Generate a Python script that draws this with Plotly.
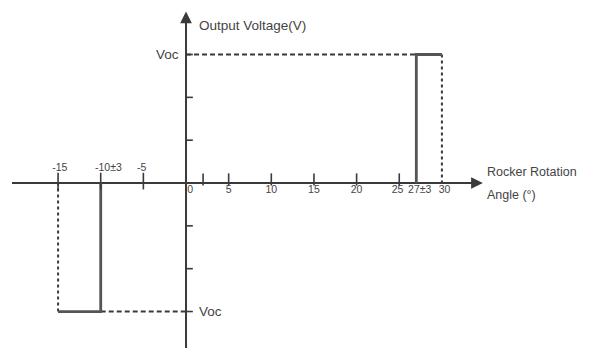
import plotly.graph_objects as go

# Data
pos_step_x = [27, 27, 30]          # solid rising edge at 27±3
pos_step_y = [0, 1, 1]
pos_dash_x = [0, 27]
pos_dash_y = [1, 1]
pos_dash_v_x = [30, 30]
pos_dash_v_y = [1, 0]

neg_step_x = [-10, -10, -15]
neg_step_y = [0, -1, -1]
neg_dash_x = [-10, 0]
neg_dash_y = [-1, -1]
neg_dash_v_x = [-15, -15]
neg_dash_v_y = [-1, 0]

neg_ticks = [-15, -10, -5]
neg_tick_labels = ["-15", "-10±3", "-5"]
neg_label_pos = [-14.8, -9.1, -5.2]
pos_ticks = [2, 5, 10, 15, 20, 25, 27, 30]
pos_tick_labels = ["0", "5", "10", "15", "20", "25", "27±3", "30"]
pos_label_pos = [0.5, 5, 10, 15, 20, 24.8, 27.4, 30.3]
y_ticks = [-1, -2/3, -1/3, 1/3, 2/3, 1]

AX = "#3a3a3a"
LN = "#555555"
TX = "#444444"
FONT = "Liberation Sans"

fig = go.Figure()

def line(x, y, color=LN, width=2.5, dash="solid"):
    fig.add_trace(go.Scatter(x=x, y=y, mode="lines",
                             line=dict(color=color, width=width, dash=dash),
                             hoverinfo="skip", showlegend=False))

line(pos_dash_x, pos_dash_y, color=AX, width=2, dash="5px,3px")
line(pos_dash_v_x, pos_dash_v_y, color=AX, width=2, dash="3px,3px")
line(neg_dash_x, neg_dash_y, color=AX, width=2, dash="5px,3px")
line(neg_dash_v_x, neg_dash_v_y, color=AX, width=2, dash="3px,3px")
line(pos_step_x, pos_step_y, color=LN, width=2.8)
line(neg_step_x, neg_step_y, color=LN, width=2.8)

# Axes lines
fig.add_shape(type="line", x0=-20.4, x1=34.0, y0=0, y1=0,
              line=dict(color=AX, width=2), layer="below")
fig.add_shape(type="line", x0=0, x1=0, y0=-1.284, y1=1.26,
              line=dict(color=AX, width=2), layer="below")

# arrows
fig.add_annotation(x=34.8, y=0, ax=33.0, ay=0, xref="x", yref="y",
                   axref="x", ayref="y", showarrow=True, arrowhead=2,
                   arrowsize=1.3, arrowwidth=1.8, arrowcolor=AX, text="")
fig.add_annotation(x=0, y=1.335, ax=0, ay=1.2, xref="x", yref="y",
                   axref="x", ayref="y", showarrow=True, arrowhead=2,
                   arrowsize=1.3, arrowwidth=1.8, arrowcolor=AX, text="")

# x ticks
for t in neg_ticks:
    fig.add_shape(type="line", x0=t, x1=t, y0=-0.05, y1=0.08,
                  line=dict(color=AX, width=1.6))
for t in pos_ticks[:6]:
    fig.add_shape(type="line", x0=t, x1=t, y0=-0.02, y1=0.075,
                  line=dict(color=AX, width=1.6))
# y ticks
for t in y_ticks:
    fig.add_shape(type="line", x0=0, x1=0.8, y0=t, y1=t,
                  line=dict(color=AX, width=1.6))

fig.add_trace(go.Scatter(x=neg_label_pos, y=[0.117]*len(neg_ticks), mode="text",
                         text=neg_tick_labels, textposition="middle center",
                         textfont=dict(family=FONT, size=10.5, color=TX),
                         hoverinfo="skip", showlegend=False))
fig.add_trace(go.Scatter(x=pos_label_pos, y=[-0.06]*len(pos_ticks), mode="text",
                         text=pos_tick_labels, textposition="middle center",
                         textfont=dict(family=FONT, size=10.5, color=TX),
                         hoverinfo="skip", showlegend=False))

# texts
fig.add_annotation(x=1.3, y=1.222, xref="x", yref="y", text="Output Voltage(V)",
                   showarrow=False, xanchor="left",
                   font=dict(family=FONT, size=13.5, color=TX))
fig.add_annotation(x=-0.6, y=1, xref="x", yref="y", text="Voc",
                   showarrow=False, xanchor="right",
                   font=dict(family=FONT, size=13.5, color=TX))
fig.add_annotation(x=1.3, y=-1, xref="x", yref="y", text="Voc",
                   showarrow=False, xanchor="left",
                   font=dict(family=FONT, size=13.5, color=TX))
fig.add_annotation(x=35.0, y=0.086, xref="x", yref="y", text="Rocker Rotation",
                   showarrow=False, xanchor="left",
                   font=dict(family=FONT, size=12.5, color=TX))
fig.add_annotation(x=35.0, y=-0.093, xref="x", yref="y", text="Angle (°)",
                   showarrow=False, xanchor="left",
                   font=dict(family=FONT, size=12.5, color=TX))

# body has an 8px margin in the browser; ranges compensate for that offset
fig.update_layout(
    width=590, height=353,
    margin=dict(l=0, r=0, t=0, b=0),
    paper_bgcolor="white", plot_bgcolor="white",
    xaxis=dict(range=[-20.87, 48.30], visible=False, fixedrange=True),
    yaxis=dict(range=[-1.385, 1.362], visible=False, fixedrange=True),
)

fig.write_html("out.html")
